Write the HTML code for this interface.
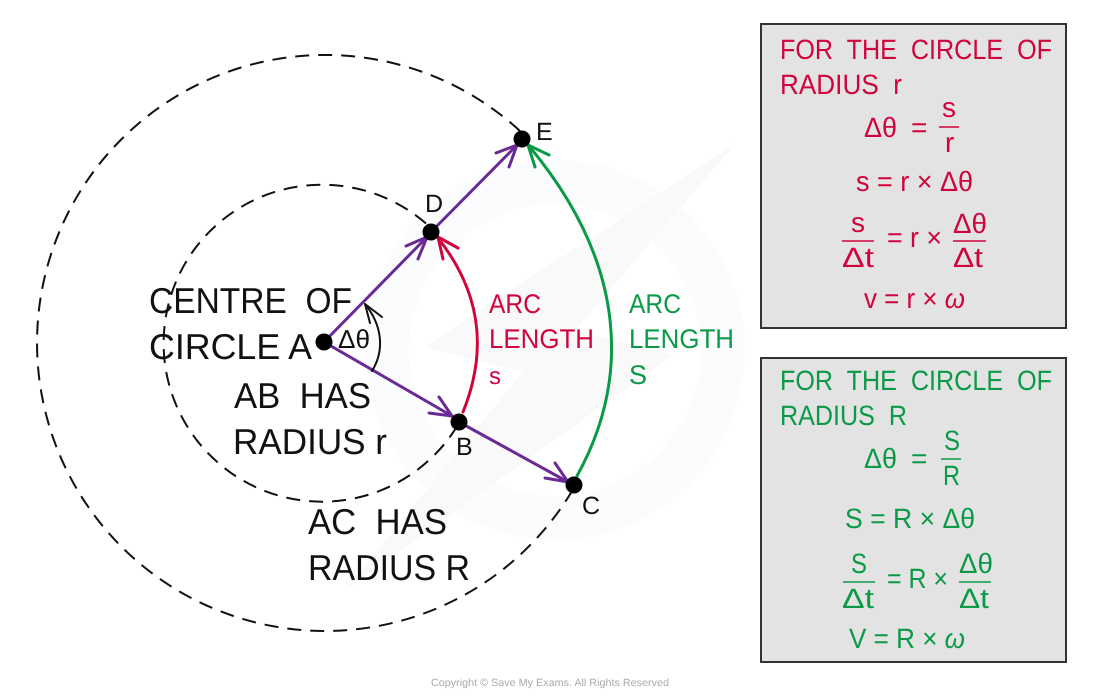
<!DOCTYPE html>
<html>
<head>
<meta charset="utf-8">
<style>
html,body{margin:0;padding:0;background:#fff;width:1100px;height:700px;overflow:hidden}
svg{display:block}
text{font-family:"Liberation Sans","DejaVu Sans",sans-serif;white-space:pre;text-rendering:geometricPrecision}
.k{font-size:36px;fill:#111}
.t{font-size:28px}
.e{font-size:28px}
.r text{fill:#d0043c}
.g text{fill:#0a9a47}
.l{font-size:25px;fill:#111}
</style>
</head>
<body>
<svg width="1100" height="700" viewBox="0 0 1100 700" xmlns="http://www.w3.org/2000/svg">
<!-- watermark -->
<circle cx="555" cy="350" r="168" fill="none" stroke="#fafcfe" stroke-width="44"/>
<polygon points="736,143 425,347 523,372 345,590 673,355 575,330" fill="#f9f9f9"/>

<!-- dashed circles -->
<g fill="none" stroke="#111" stroke-width="2" stroke-dasharray="14 9">
<path d="M520 131 A288 288 0 1 0 575 486"/>
<path d="M426 223.5 A158.5 158.5 0 1 0 456 428"/>
</g>

<!-- arcs -->
<g fill="none" stroke-width="3" stroke-linecap="round" stroke-linejoin="round">
<g stroke="#d0043c">
<path d="M463 412 C484 360 487 300 438 238"/>
<path d="M458 248 L438 237 L443 259"/>
</g>
<g stroke="#0a9a47">
<path d="M577 476 C630 380 628 265 529 146"/>
<path d="M549 155 L528 145 L535 167"/>
</g>
<g stroke="#6a2a96">
<path d="M324 342 L427 237"/><path d="M406 246 L427 237 L418 259"/>
<path d="M324 342 L452 416"/><path d="M429 413 L452 416 L439 397"/>
<path d="M459 422 L568 482"/><path d="M545 478 L568 482 L555 463"/>
<path d="M431 232 L517 145"/><path d="M496 153 L517 145 L509 167"/>
</g>
<g stroke="#111" stroke-width="2">
<path d="M372 371 C385 350 382 325 365 304"/>
<path d="M382 317 L365 304 L370 323"/>
</g>
</g>

<!-- points -->
<g fill="#000">
<circle cx="324" cy="342" r="8.5"/>
<circle cx="459" cy="422" r="8.5"/>
<circle cx="574" cy="485" r="8.5"/>
<circle cx="431" cy="232" r="8.5"/>
<circle cx="522" cy="139" r="8.5"/>
</g>

<!-- black labels -->
<g class="k">
<text x="149" y="313" textLength="203" lengthAdjust="spacingAndGlyphs">CENTRE  OF</text>
<text x="149" y="359" textLength="163" lengthAdjust="spacingAndGlyphs">CIRCLE A</text>
<text x="234" y="408" textLength="137" lengthAdjust="spacingAndGlyphs">AB  HAS</text>
<text x="233" y="454" textLength="154" lengthAdjust="spacingAndGlyphs">RADIUS r</text>
<text x="308" y="534" textLength="139" lengthAdjust="spacingAndGlyphs">AC  HAS</text>
<text x="308" y="580" textLength="162" lengthAdjust="spacingAndGlyphs">RADIUS R</text>
</g>
<text x="338" y="348" font-size="26" fill="#111" textLength="32" lengthAdjust="spacingAndGlyphs">Δθ</text>
<text class="l" x="425" y="212">D</text>
<text class="l" x="536" y="140">E</text>
<text class="l" x="456" y="455">B</text>
<text class="l" x="582" y="514">C</text>

<!-- arc labels -->
<g class="r" font-size="27">
<text x="489" y="313" textLength="52" lengthAdjust="spacingAndGlyphs">ARC</text>
<text x="489" y="348" textLength="105" lengthAdjust="spacingAndGlyphs">LENGTH</text>
<text x="489" y="384" font-size="24">s</text>
</g>
<g class="g" font-size="27">
<text x="629" y="313" textLength="52" lengthAdjust="spacingAndGlyphs">ARC</text>
<text x="629" y="348" textLength="105" lengthAdjust="spacingAndGlyphs">LENGTH</text>
<text x="629" y="384">S</text>
</g>

<!-- red panel -->
<rect x="761" y="24" width="305" height="304" fill="#e3e3e3" stroke="#333" stroke-width="2"/>
<g class="r">
<text class="t" x="780" y="59" textLength="272" lengthAdjust="spacingAndGlyphs">FOR  THE  CIRCLE  OF</text>
<text class="t" x="780" y="94" textLength="122" lengthAdjust="spacingAndGlyphs">RADIUS  r</text>
<text class="e" x="864" y="137" textLength="33" lengthAdjust="spacingAndGlyphs">Δθ</text>
<text class="e" x="911" y="137">=</text>
<text class="e" x="942" y="117">s</text>
<text class="e" x="945" y="152">r</text>
<text class="e" x="856" y="191" textLength="117" lengthAdjust="spacingAndGlyphs">s = r × Δθ</text>
<text class="e" x="851" y="232">s</text>
<text class="e" x="842" y="267" textLength="32" lengthAdjust="spacingAndGlyphs">Δt</text>
<text class="e" x="887" y="247" textLength="55" lengthAdjust="spacingAndGlyphs">= r ×</text>
<text class="e" x="953" y="233" textLength="34" lengthAdjust="spacingAndGlyphs">Δθ</text>
<text class="e" x="953" y="267" textLength="30" lengthAdjust="spacingAndGlyphs">Δt</text>
<text class="e" x="864" y="308" textLength="101" lengthAdjust="spacingAndGlyphs">v = r × <tspan font-style="italic">ω</tspan></text>
</g>
<g stroke="#d0043c" stroke-width="1.6">
<path d="M939 127H959M842 241H874M953 241H986"/>
</g>

<!-- green panel -->
<rect x="761" y="358" width="305" height="304" fill="#e3e3e3" stroke="#333" stroke-width="2"/>
<g class="g">
<text class="t" x="780" y="390" textLength="272" lengthAdjust="spacingAndGlyphs">FOR  THE  CIRCLE  OF</text>
<text class="t" x="780" y="425" textLength="127" lengthAdjust="spacingAndGlyphs">RADIUS  R</text>
<text class="e" x="864" y="468" textLength="33" lengthAdjust="spacingAndGlyphs">Δθ</text>
<text class="e" x="911" y="468">=</text>
<text class="e" x="944" y="450" textLength="16" lengthAdjust="spacingAndGlyphs">S</text>
<text class="e" x="943" y="485" textLength="17" lengthAdjust="spacingAndGlyphs">R</text>
<text class="e" x="845" y="528" textLength="130" lengthAdjust="spacingAndGlyphs">S = R × Δθ</text>
<text class="e" x="851" y="573" textLength="16" lengthAdjust="spacingAndGlyphs">S</text>
<text class="e" x="842" y="608" textLength="32" lengthAdjust="spacingAndGlyphs">Δt</text>
<text class="e" x="887" y="588" textLength="61" lengthAdjust="spacingAndGlyphs">= R ×</text>
<text class="e" x="959" y="573" textLength="34" lengthAdjust="spacingAndGlyphs">Δθ</text>
<text class="e" x="959" y="608" textLength="30" lengthAdjust="spacingAndGlyphs">Δt</text>
<text class="e" x="849" y="648" textLength="116" lengthAdjust="spacingAndGlyphs">V = R × <tspan font-style="italic">ω</tspan></text>
</g>
<g stroke="#0a9a47" stroke-width="1.6">
<path d="M941 459H961M843 582H875M959 582H991"/>
</g>

<text x="431" y="686" font-size="10.5" fill="#aaa" textLength="238" lengthAdjust="spacingAndGlyphs">Copyright © Save My Exams. All Rights Reserved</text>
</svg>
</body>
</html>
